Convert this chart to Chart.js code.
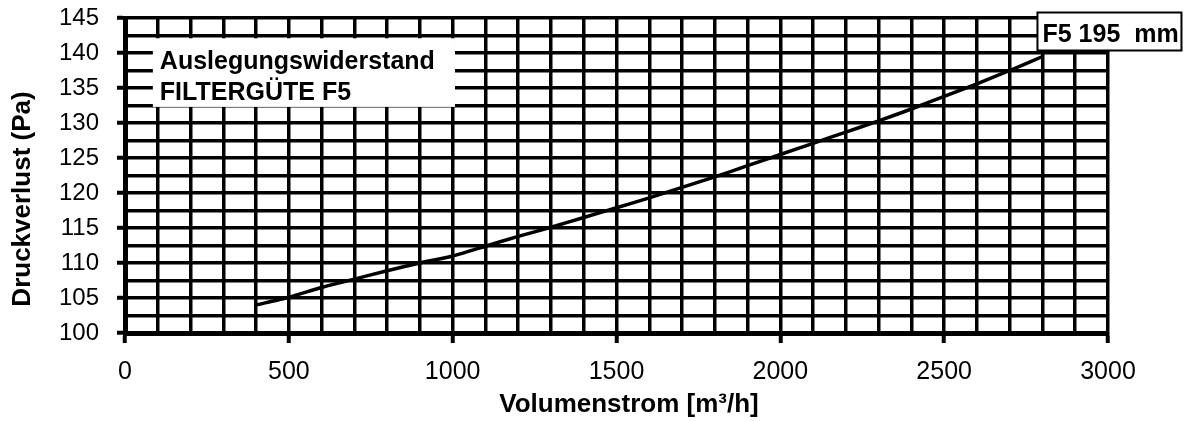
<!DOCTYPE html>
<html>
<head>
<meta charset="utf-8">
<script src="https://cdn.jsdelivr.net/npm/chart.js@4/dist/chart.umd.min.js"></script>
<style>
html,body{margin:0;padding:0;background:#fff;}
#wrap{width:1192px;height:421px;position:relative;}
</style>
</head>
<body>
<div id="wrap"><canvas id="c" width="1192" height="421"></canvas></div>
<script>
const volumeFlow = [400,500,600,700,800,900,1000,1100,1200,1300,1400,1500,1600,1700,1800,1900,2000,2100,2200,2300,2400,2500,2600,2700,2800];
const pressureLoss = [104.0,105.1,106.5,107.7,108.9,110.0,111.0,112.4,113.8,115.1,116.5,117.9,119.3,120.8,122.3,123.9,125.5,127.1,128.7,130.3,132.0,133.8,135.6,137.5,139.5];
const xTitle = 'Volumenstrom [m³/h]';
const yTitle = 'Druckverlust (Pa)';
const noteLines = ['Auslegungswiderstand', 'FILTERGÜTE F5'];
const seriesLabel = 'F5 195  mm';
const xMin = 0, xMax = 3000, xMinorStep = 100, xLabelStep = 500;
const yMin = 100, yMax = 145, yMinorStep = 2.5, yLabelStep = 5;

const FONT = "'Liberation Sans', Arial, sans-serif";

const overlay = {
  id: 'overlay',
  afterDatasetsDraw(chart) {
    const ctx = chart.ctx;
    const xs = chart.scales.x, ys = chart.scales.y;
    ctx.save();
    // note box (no border)
    const bx = xs.getPixelForValue(85), by = ys.getPixelForValue(142.1);
    const bx2 = xs.getPixelForValue(1007), by2 = ys.getPixelForValue(132.3);
    ctx.fillStyle = '#fff';
    ctx.fillRect(bx, by, bx2 - bx, by2 - by);
    ctx.fillStyle = '#000';
    ctx.font = 'bold 25px ' + FONT;
    ctx.textBaseline = 'alphabetic';
    ctx.textAlign = 'left';
    ctx.fillText(noteLines[0], bx + 7, by + 31);
    ctx.fillText(noteLines[1], bx + 7, by + 62);
    // series label box
    const last = volumeFlow.length - 1;
    const lx = xs.getPixelForValue(volumeFlow[last]) - 5;
    const ly = ys.getPixelForValue(pressureLoss[last]) - 44;
    ctx.font = 'bold 25px ' + FONT;
    const w = 144, h = 38;
    ctx.fillStyle = '#fff';
    ctx.fillRect(lx, ly, w, h);
    ctx.lineWidth = 2;
    ctx.strokeStyle = '#000';
    ctx.strokeRect(lx, ly, w, h);
    ctx.fillStyle = '#000';
    ctx.fillText(seriesLabel, lx + 5, ly + 29);
    // axis titles
    ctx.font = 'bold 26px ' + FONT;
    ctx.textAlign = 'center';
    ctx.textBaseline = 'middle';
    ctx.fillText(xTitle, 629, 405);
    ctx.save();
    ctx.translate(23, 199);
    ctx.rotate(-Math.PI / 2);
    ctx.font = 'bold 26px ' + FONT;
    ctx.fillText(yTitle, 0, 0);
    ctx.restore();
    ctx.restore();
  }
};

new Chart(document.getElementById('c'), {
  type: 'line',
  data: {
    datasets: [{
      label: seriesLabel,
      data: volumeFlow.map((x, i) => ({x: x, y: pressureLoss[i]})),
      borderColor: '#000',
      borderWidth: 3.5,
      pointRadius: 0,
      tension: 0.2,
      fill: false
    }]
  },
  options: {
    responsive: false,
    animation: false,
    devicePixelRatio: 1,
    layout: { padding: { top: 18, right: 84, left: 0, bottom: 0 } },
    plugins: { legend: { display: false }, tooltip: { enabled: false } },
    scales: {
      x: {
        type: 'linear',
        min: xMin, max: xMax,
        afterFit(s) { s.height = 88; },
        border: { display: true, color: '#000', width: 5 },
        grid: {
          color: '#000', lineWidth: 3.5, drawTicks: true, tickLength: 10, tickWidth: 4,
          tickColor: c => (c.tick && c.tick.value % xLabelStep === 0) ? '#000' : 'rgba(0,0,0,0)'
        },
        ticks: {
          stepSize: xMinorStep, autoSkip: false, maxRotation: 0, padding: 14, color: '#000',
          font: { family: FONT, size: 25 },
          callback: v => (v % xLabelStep === 0) ? String(v) : ''
        }
      },
      y: {
        type: 'linear',
        min: yMin, max: yMax,
        afterFit(s) { s.width = 125; s.paddingTop = 0; s.paddingBottom = 0; },
        border: { display: true, color: '#000', width: 5 },
        grid: {
          color: '#000', lineWidth: 3.5, drawTicks: true, tickLength: 8, tickWidth: 4,
          tickColor: c => (c.tick && c.tick.value % yLabelStep === 0) ? '#000' : 'rgba(0,0,0,0)'
        },
        ticks: {
          stepSize: yMinorStep, autoSkip: false, padding: 18, color: '#000',
          font: { family: FONT, size: 24 },
          callback: v => (v % yLabelStep === 0) ? String(v) : ''
        }
      }
    }
  },
  plugins: [overlay]
});
</script>
</body>
</html>
